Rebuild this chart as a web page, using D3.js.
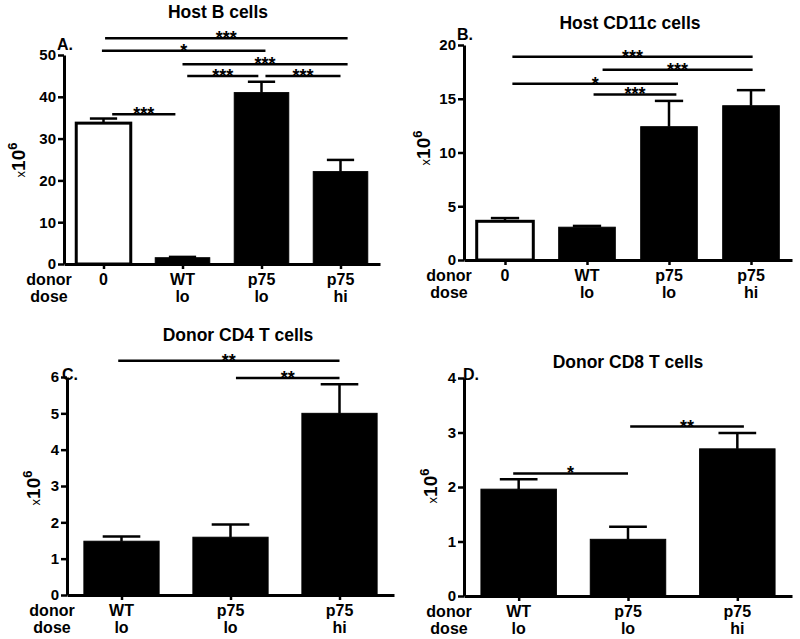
<!DOCTYPE html>
<html><head><meta charset="utf-8">
<script src="https://cdn.jsdelivr.net/npm/d3@7"></script>
<style>
body{margin:0;background:#fff;}
text{font-family:"Liberation Sans",Arial,Helvetica,sans-serif;}
</style></head>
<body><svg id="c" width="800" height="639"></svg>
<script>
// ---------- data ----------
const hostLine1 = ["0", "WT", "p75", "p75"];
const hostLine2 = ["", "lo", "lo", "hi"];
const donorLine1 = ["WT", "p75", "p75"];
const donorLine2 = ["lo", "lo", "hi"];

const bCellMeans = [33.7, 1.5, 41.0, 22.1];
const bCellSem   = [1.1, 0.2, 2.6, 2.8];
const cd11cMeans = [3.6, 3.05, 12.4, 14.35];
const cd11cSem   = [0.3, 0.12, 2.4, 1.45];
const cd4Means   = [1.48, 1.59, 5.0];
const cd4Sem     = [0.13, 0.35, 0.8];
const cd8Means   = [1.96, 1.04, 2.70];
const cd8Sem     = [0.18, 0.23, 0.29];

const bCellTicks = [0, 10, 20, 30, 40, 50];
const cd11cTicks = [0, 5, 10, 15, 20];
const cd4Ticks   = [0, 1, 2, 3, 4, 5, 6];
const cd8Ticks   = [0, 1, 2, 3, 4];

const hostFills  = ["white", "black", "black", "black"];
const donorFills = ["black", "black", "black"];

// significance brackets: from/to in category units, level in y units
const bCellSig = [
  {from: 0.02, to: 3.09, level: 54.0, label: "***"},
  {from: -0.02, to: 2.05, level: 51.0, label: "*"},
  {from: 1.0, to: 3.09, level: 47.8, label: "***"},
  {from: 1.06, to: 1.96, level: 45.0, label: "***"},
  {from: 2.05, to: 3.0, level: 45.0, label: "***"},
  {from: 0.11, to: 0.91, level: 35.8, label: "***"}
];
const cd11cSig = [
  {from: 0.09, to: 3.02, level: 18.9, label: "***"},
  {from: 1.19, to: 3.02, level: 17.7, label: "***"},
  {from: 0.09, to: 2.11, level: 16.4, label: "*"},
  {from: 1.08, to: 2.09, level: 15.4, label: "***"}
];
const cd4Sig = [
  {from: -0.03, to: 2.0, level: 6.45, label: "**"},
  {from: 1.05, to: 2.0, level: 5.97, label: "**"}
];
const cd8Sig = [
  {from: -0.05, to: 1.0, level: 2.25, label: "*"},
  {from: 1.02, to: 2.06, level: 3.11, label: "**"}
];

// ---------- drawing ----------
const svg = d3.select("#c");
const FONT = '"Liberation Sans",Arial,Helvetica,sans-serif';

function drawPanel(p) {
  const g = svg.append("g");
  const n = p.means.length;
  const x = d3.scaleLinear().domain([-0.5, n - 0.5]).range([p.left, p.right]);
  const y = d3.scaleLinear().domain([0, p.ticks[p.ticks.length - 1]]).range([p.bottom, p.top]);
  const step = x(1) - x(0);
  const bw = step * 0.69;

  // bars
  g.selectAll("rect.bar").data(p.means).join("rect")
    .attr("x", (d, i) => x(i) - bw / 2)
    .attr("y", d => y(d))
    .attr("width", bw)
    .attr("height", d => y(0) - y(d))
    .attr("fill", (d, i) => p.fills[i])
    .attr("stroke", "black")
    .attr("stroke-width", (d, i) => p.fills[i] === "white" ? 3 : 1);

  // error bars (upper)
  p.means.forEach((m, i) => {
    const top = y(m + p.sem[i]);
    g.append("line").attr("x1", x(i)).attr("x2", x(i))
      .attr("y1", y(m)).attr("y2", top).attr("stroke", "black").attr("stroke-width", 2.5);
    g.append("line").attr("x1", x(i) - bw / 4).attr("x2", x(i) + bw / 4)
      .attr("y1", top).attr("y2", top).attr("stroke", "black").attr("stroke-width", 2.5);
  });

  // y axis
  const ya = g.append("g").attr("transform", `translate(${p.left},0)`)
    .call(d3.axisLeft(y).tickValues(p.ticks).tickFormat(d3.format("d"))
      .tickSize(6).tickSizeOuter(0).tickPadding(2));
  ya.attr("font-size", 15).attr("font-family", FONT);
  ya.select(".domain").attr("stroke-width", 3);
  ya.selectAll(".tick line").attr("stroke-width", 2.5);
  ya.selectAll(".tick text").attr("font-size", 15).attr("font-weight", "bold").attr("fill", "black");

  // x axis
  const xa = g.append("g").attr("transform", `translate(0,${p.bottom})`)
    .call(d3.axisBottom(x).tickValues(d3.range(n)).tickSize(5).tickSizeOuter(0).tickFormat(""));
  xa.select(".domain").attr("stroke-width", 3);
  xa.selectAll(".tick line").attr("stroke-width", 2.5);

  // category labels
  const l1 = p.bottom + 21, l2 = p.bottom + 38;
  p.line1.forEach((t, i) => {
    g.append("text").attr("x", x(i)).attr("y", l1).attr("text-anchor", "middle")
      .attr("font-size", 16).attr("font-weight", "bold").text(t);
    g.append("text").attr("x", x(i)).attr("y", l2).attr("text-anchor", "middle")
      .attr("font-size", 16).attr("font-weight", "bold").text(p.line2[i]);
  });
  g.append("text").attr("x", p.left - 15).attr("y", l1).attr("text-anchor", "middle")
    .attr("font-size", 16).attr("font-weight", "bold").text("donor");
  g.append("text").attr("x", p.left - 15).attr("y", l2).attr("text-anchor", "middle")
    .attr("font-size", 16).attr("font-weight", "bold").text("dose");

  // significance lines
  p.sig.forEach(s => {
    g.append("line").attr("x1", x(s.from)).attr("x2", x(s.to))
      .attr("y1", y(s.level)).attr("y2", y(s.level))
      .attr("stroke", "black").attr("stroke-width", 2.5);
    g.append("text").attr("x", (x(s.from) + x(s.to)) / 2).attr("y", y(s.level) + 6)
      .attr("text-anchor", "middle").attr("font-size", 18).attr("font-weight", "bold").text(s.label);
  });

  // title
  g.append("text").attr("x", p.titleX).attr("y", p.titleY).attr("text-anchor", "middle")
    .attr("font-size", 17.5).attr("font-weight", "bold").text(p.title);

  // panel letter
  g.append("text").attr("x", p.left + p.letterDx).attr("y", p.top + p.letterDy)
    .attr("font-size", 16).attr("font-weight", "bold").text(p.letter);

  // y label x10^6
  const yl = g.append("text")
    .attr("transform", `translate(${p.ylabX},${p.ylabY}) rotate(-90)`)
    .attr("text-anchor", "middle");
  yl.append("tspan").attr("font-size", 13).text("x");
  yl.append("tspan").attr("font-size", 19).attr("font-weight", "bold").text("10");
  yl.append("tspan").attr("font-size", 13).attr("font-weight", "bold").attr("dy", -8).text("6");
}

drawPanel({left: 64, right: 380, top: 55, bottom: 264, means: bCellMeans, sem: bCellSem,
  ticks: bCellTicks, fills: hostFills, line1: hostLine1, line2: hostLine2, sig: bCellSig,
  title: "Host B cells", titleX: 218, titleY: 18, letter: "A.", letterDx: -7, letterDy: -5,
  ylabX: 25, ylabY: 160});
drawPanel({left: 464, right: 792, top: 45, bottom: 260, means: cd11cMeans, sem: cd11cSem,
  ticks: cd11cTicks, fills: hostFills, line1: hostLine1, line2: hostLine2, sig: cd11cSig,
  title: "Host CD11c cells", titleX: 630, titleY: 29, letter: "B.", letterDx: -7, letterDy: -5,
  ylabX: 430, ylabY: 148});
drawPanel({left: 67, right: 394, top: 377, bottom: 595, means: cd4Means, sem: cd4Sem,
  ticks: cd4Ticks, fills: donorFills, line1: donorLine1, line2: donorLine2, sig: cd4Sig,
  title: "Donor CD4 T cells", titleX: 238, titleY: 341, letter: "C.", letterDx: -5, letterDy: 3,
  ylabX: 40, ylabY: 488});
drawPanel({left: 464, right: 792, top: 378, bottom: 596, means: cd8Means, sem: cd8Sem,
  ticks: cd8Ticks, fills: donorFills, line1: donorLine1, line2: donorLine2, sig: cd8Sig,
  title: "Donor CD8 T cells", titleX: 628, titleY: 368, letter: "D.", letterDx: -1, letterDy: 2,
  ylabX: 437, ylabY: 486});
</script></body></html>
